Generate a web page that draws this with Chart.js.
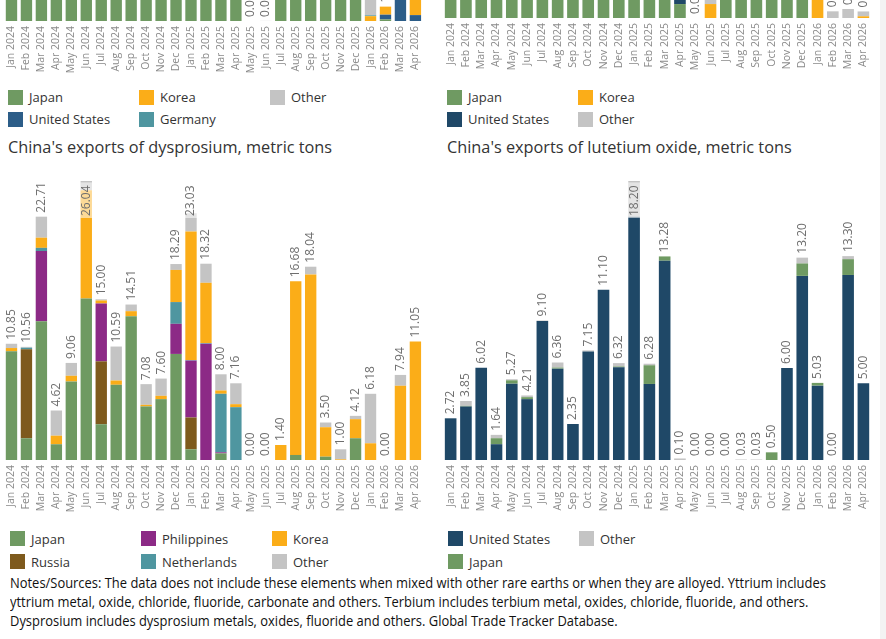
<!DOCTYPE html>
<html>
<head>
<meta charset="utf-8">
<script src="https://cdn.jsdelivr.net/npm/chart.js@4.4.1/dist/chart.umd.min.js"></script>
<style>
  body { margin: 0; width: 886px; height: 639px; overflow: hidden; background: #fff; position: relative; font-family: 'Open Sans', sans-serif; }
  .chartBox { position: absolute; }
  .title { position: absolute; font-size: 16.3px; color: #333; white-space: nowrap; }
  .legend { position: absolute; display: grid; grid-auto-rows: 23px; font-size: 13px; color: #333; }
  .legend div { display: flex; align-items: center; white-space: nowrap; }
  .legend .sw { width: 15px; height: 15px; margin-right: 6px; flex: none; }
  .notes { position: absolute; left: 10px; top: 573px; font-size: 15px; line-height: 19px; color: #111; white-space: nowrap; transform: scaleX(0.862); transform-origin: 0 0; }
  .edge { position: absolute; left: 880px; top: 0; width: 6px; height: 639px; background: #f3f3f3; }
</style>
</head>
<body>
<div class="chartBox" style="left:4px; top:-258px; width:429px; height:339px;"><canvas id="topLeft"></canvas></div>
<div class="chartBox" style="left:443px; top:-261px; width:438px; height:339px;"><canvas id="topRight"></canvas></div>
<div class="legend" id="legTopLeft" style="left:8px; top:86px; grid-template-columns:131px 131px 131px; grid-auto-rows:22px;"></div>
<div class="legend" id="legTopRight" style="left:447px; top:86px; grid-template-columns:131px 131px; grid-auto-rows:22px;"></div>

<div class="title" style="left:8px; top:136px;">China's exports of dysprosium, metric tons</div>
<div class="title" style="left:447px; top:136px;">China's exports of lutetium oxide, metric tons</div>

<div class="chartBox" style="left:4px; top:181px; width:429px; height:339px;"><canvas id="dysprosium"></canvas></div>
<div class="chartBox" style="left:443px; top:181px; width:438px; height:339px;"><canvas id="lutetium"></canvas></div>
<div class="legend" id="legDy" style="left:10px; top:527px; grid-template-columns:131px 131px 131px;"></div>
<div class="legend" id="legLu" style="left:448px; top:527px; grid-template-columns:131px 131px;"></div>

<div class="notes">Notes/Sources: The data does not include these elements when mixed with other rare earths or when they are alloyed. Yttrium includes<br>yttrium metal, oxide, chloride, fluoride, carbonate and others. Terbium includes terbium metal, oxides, chloride, fluoride, and others.<br>Dysprosium includes dysprosium metals, oxides, fluoride and others. Global Trade Tracker Database.</div>
<div class="edge"></div>

<script>
const months = ['Jan 2024', 'Feb 2024', 'Mar 2024', 'Apr 2024', 'May 2024', 'Jun 2024', 'Jul 2024', 'Aug 2024',
  'Sep 2024', 'Oct 2024', 'Nov 2024', 'Dec 2024', 'Jan 2025', 'Feb 2025', 'Mar 2025', 'Apr 2025', 'May 2025',
  'Jun 2025', 'Jul 2025', 'Aug 2025', 'Sep 2025', 'Oct 2025', 'Nov 2025', 'Dec 2025', 'Jan 2026', 'Feb 2026',
  'Mar 2026', 'Apr 2026'];

// top-left chart (only its lower edge is visible)
const tlJapan = [14, 12, 18, 9, 16, 20, 11, 15, 13, 17, 10, 19, 12, 14, 16, 11, 0, 0, 13, 15, 12, 18, 14, 16, 0, 0.15, 0, 0];
const tlUS = [0, 0, 0, 0, 0, 0, 0, 0, 0, 0, 0, 0, 0, 0, 0, 0, 0, 0, 0, 0, 0, 0, 0, 0, 0, 0.44, 22, 0.55];
const tlKorea = [0, 0, 0, 0, 0, 0, 0, 0, 0, 0, 0, 0, 0, 0, 0, 0, 0, 0, 0, 0, 0, 0, 0, 0, 0.45, 0.75, 0, 15];
const tlGermany = [0, 0, 0, 0, 0, 0, 0, 0, 0, 0, 0, 0, 0, 0, 0, 0, 0, 0, 0, 0, 0, 0, 0, 0, 0.08, 0, 0, 0];
const tlOther = [0, 0, 0, 0, 0, 0, 0, 0, 0, 0, 0, 0, 0, 0, 0, 0, 0, 0.01, 0, 0, 0, 0, 0, 0, 5.2, 0, 0, 0];

// top-right chart (only its lower edge is visible)
const trJapan = [15, 13, 17, 12, 16, 14, 18, 11, 15, 13, 17, 12, 16, 14, 18, 1.15, 0, 0, 14, 16, 12, 15, 13, 17, 0, 0, 0, 0];
const trUS = [0, 0, 0, 0, 0, 0, 0, 0, 0, 0, 0, 0, 0, 0, 0, 9, 0, 0, 0, 0, 0, 0, 0, 0, 0, 0, 0, 0];
const trKorea = [0, 0, 0, 0, 0, 0, 0, 0, 0, 0, 0, 0, 0, 0, 0, 0, 0, 1.15, 0, 0, 0, 0, 0, 0, 14, 0, 0, 0.14];
const trOther = [0, 0, 0, 0, 0, 0, 0, 0, 0, 0, 0, 0, 0, 0, 0, 0, 0, 8, 0, 0, 0, 0, 0, 0, 0, 0.55, 0.74, 0.4];

// dysprosium
const dyJapan = [10.15, 2.03, 12.95, 1.47, 7.33, 15.07, 3.34, 7.02, 13.42, 5.0, 5.68, 9.9, 1.0, 0, 0.62, 0, 0, 0, 0, 0.47, 0, 0.31, 0, 2.03, 0, 0, 0, 0];
const dyRussia = [0, 8.3, 0, 0, 0, 0, 5.87, 0, 0, 0, 0, 0, 2.97, 0, 0, 0, 0, 0, 0, 0, 0, 0, 0, 0, 0, 0, 0, 0];
const dyPhilippines = [0, 0, 6.55, 0, 0, 0, 5.4, 0, 0, 0, 0, 2.81, 5.31, 10.86, 0.1, 0, 0, 0, 0, 0, 0, 0, 0, 0, 0, 0, 0, 0];
const dyNetherlands = [0, 0.15, 0.3, 0, 0, 0, 0, 0, 0, 0, 0, 2.03, 0.05, 0.06, 5.46, 4.93, 0, 0, 0, 0, 0, 0, 0, 0, 0, 0, 0, 0];
const dyKorea = [0.3, 0, 0.95, 0.8, 0.53, 10.1, 0.28, 0.4, 0.47, 0.15, 0.31, 3.0, 12.0, 5.62, 0.31, 0.28, 0, 0, 1.4, 16.21, 17.32, 2.75, 0.06, 1.78, 1.56, 0, 6.93, 11.05];
const dyOther = [0.4, 0.08, 1.96, 2.35, 1.2, 0.87, 0.11, 3.17, 0.62, 1.93, 1.61, 0.55, 1.7, 1.78, 1.51, 1.95, 0, 0, 0, 0, 0.72, 0.44, 0.94, 0.31, 4.62, 0, 1.01, 0];

// lutetium oxide
const luUS = [2.72, 3.49, 6.02, 1.03, 4.98, 3.97, 9.06, 5.96, 2.35, 7.08, 11.1, 6.05, 15.87, 4.96, 13.0, 0, 0, 0, 0, 0, 0, 0, 6.0, 12.01, 4.85, 0, 12.07, 5.0];
const luJapan = [0, 0.04, 0, 0.39, 0.22, 0.13, 0, 0.07, 0, 0, 0, 0.05, 0, 1.22, 0.28, 0, 0, 0, 0, 0, 0, 0.5, 0, 0.81, 0.18, 0, 1.03, 0];
const luOther = [0, 0.32, 0, 0.22, 0.07, 0.11, 0.04, 0.33, 0, 0.07, 0, 0.22, 2.33, 0.1, 0, 0.1, 0, 0, 0, 0.03, 0.03, 0, 0, 0.38, 0, 0, 0.2, 0];

const colors = {
  japan: '#6f9a62', korea: '#fbad18', other: '#c4c4c4', us: '#1f4867', usLight: '#2c5d88',
  germany: '#4f96a0', netherlands: '#4f96a0', russia: '#7e5a1d', philippines: '#8c2a86'
};

Chart.defaults.font.family = "'Open Sans', sans-serif";

const totalLabels = {
  id: 'totalLabels',
  afterDatasetsDraw(chart) {
    const { ctx, chartArea } = chart;
    const yScale = chart.scales.y;
    const meta = chart.getDatasetMeta(0);
    ctx.save();
    ctx.font = '12px "Open Sans"';
    ctx.textBaseline = 'middle';
    ctx.textAlign = 'left';
    chart.data.labels.forEach((lab, i) => {
      let total = 0;
      chart.data.datasets.forEach(ds => { total += ds.data[i] || 0; });
      const text = total.toFixed(2);
      const w = ctx.measureText(text).width;
      const x = meta.data[i].x;
      let y = yScale.getPixelForValue(total) - 4;
      let inside = false;
      if (y - w < chartArea.top + 1) {
        y = chartArea.top + 35;
        inside = true;
      }
      ctx.save();
      ctx.translate(x, y);
      ctx.rotate(-Math.PI / 2);
      if (inside) {
        ctx.fillStyle = 'rgba(255,255,255,0.55)';
        ctx.fillRect(-2, -6, w + 5, 12);
      }
      ctx.fillStyle = '#6e6e6e';
      ctx.fillText(text, 0, 0);
      ctx.restore();
    });
    ctx.restore();
  }
};

function makeChart(id, datasets, yMax) {
  const ctx = document.getElementById(id).getContext('2d');
  return new Chart(ctx, {
    type: 'bar',
    data: {
      labels: months,
      datasets: datasets.map(d => ({
        label: d.label,
        data: d.data,
        backgroundColor: d.color,
        borderWidth: 0,
        categoryPercentage: 1,
        barPercentage: 0.76
      }))
    },
    options: {
      responsive: true,
      maintainAspectRatio: false,
      animation: false,
      devicePixelRatio: 1,
      layout: { padding: 0 },
      plugins: { legend: { display: false }, tooltip: { enabled: false } },
      scales: {
        x: {
          stacked: true,
          grid: { display: false, drawTicks: false },
          border: { display: false },
          ticks: { color: '#8a8a8a', font: { size: 10.5 }, minRotation: 90, maxRotation: 90, padding: 5, autoSkip: false },
          afterFit: scale => { scale.height = 60; }
        },
        y: { stacked: true, display: false, min: 0, max: yMax }
      }
    },
    plugins: [totalLabels]
  });
}

function stackMax(arrays) {
  return Math.max(...months.map((m, i) => arrays.reduce((s, a) => s + a[i], 0)));
}

function makeLegend(id, items) {
  const el = document.getElementById(id);
  items.forEach(it => {
    const d = document.createElement('div');
    if (it) {
      d.innerHTML = '<span class="sw" style="background:' + it.color + '"></span>' + it.label;
    }
    el.appendChild(d);
  });
}

const tlSets = [
  { label: 'Japan', data: tlJapan, color: colors.japan },
  { label: 'United States', data: tlUS, color: colors.usLight },
  { label: 'Korea', data: tlKorea, color: colors.korea },
  { label: 'Germany', data: tlGermany, color: colors.germany },
  { label: 'Other', data: tlOther, color: colors.other }
];
const trSets = [
  { label: 'Japan', data: trJapan, color: colors.japan },
  { label: 'United States', data: trUS, color: colors.us },
  { label: 'Korea', data: trKorea, color: colors.korea },
  { label: 'Other', data: trOther, color: colors.other }
];
const dySets = [
  { label: 'Japan', data: dyJapan, color: colors.japan },
  { label: 'Russia', data: dyRussia, color: colors.russia },
  { label: 'Philippines', data: dyPhilippines, color: colors.philippines },
  { label: 'Netherlands', data: dyNetherlands, color: colors.netherlands },
  { label: 'Korea', data: dyKorea, color: colors.korea },
  { label: 'Other', data: dyOther, color: colors.other }
];
const luSets = [
  { label: 'United States', data: luUS, color: colors.us },
  { label: 'Japan', data: luJapan, color: colors.japan },
  { label: 'Other', data: luOther, color: colors.other }
];

makeChart('topLeft', tlSets, 26);
makeChart('topRight', trSets, 23);
makeChart('dysprosium', dySets, stackMax(dySets.map(s => s.data)));
makeChart('lutetium', luSets, stackMax(luSets.map(s => s.data)));

const pick = (sets, names) => names.map(n => sets.find(s => s.label === n));
makeLegend('legTopLeft', pick(tlSets, ['Japan', 'Korea', 'Other', 'United States', 'Germany']));
makeLegend('legTopRight', pick(trSets, ['Japan', 'Korea', 'United States', 'Other']));
makeLegend('legDy', pick(dySets, ['Japan', 'Philippines', 'Korea', 'Russia', 'Netherlands', 'Other']));
makeLegend('legLu', pick(luSets, ['United States', 'Other', 'Japan']));
</script>
</body>
</html>
